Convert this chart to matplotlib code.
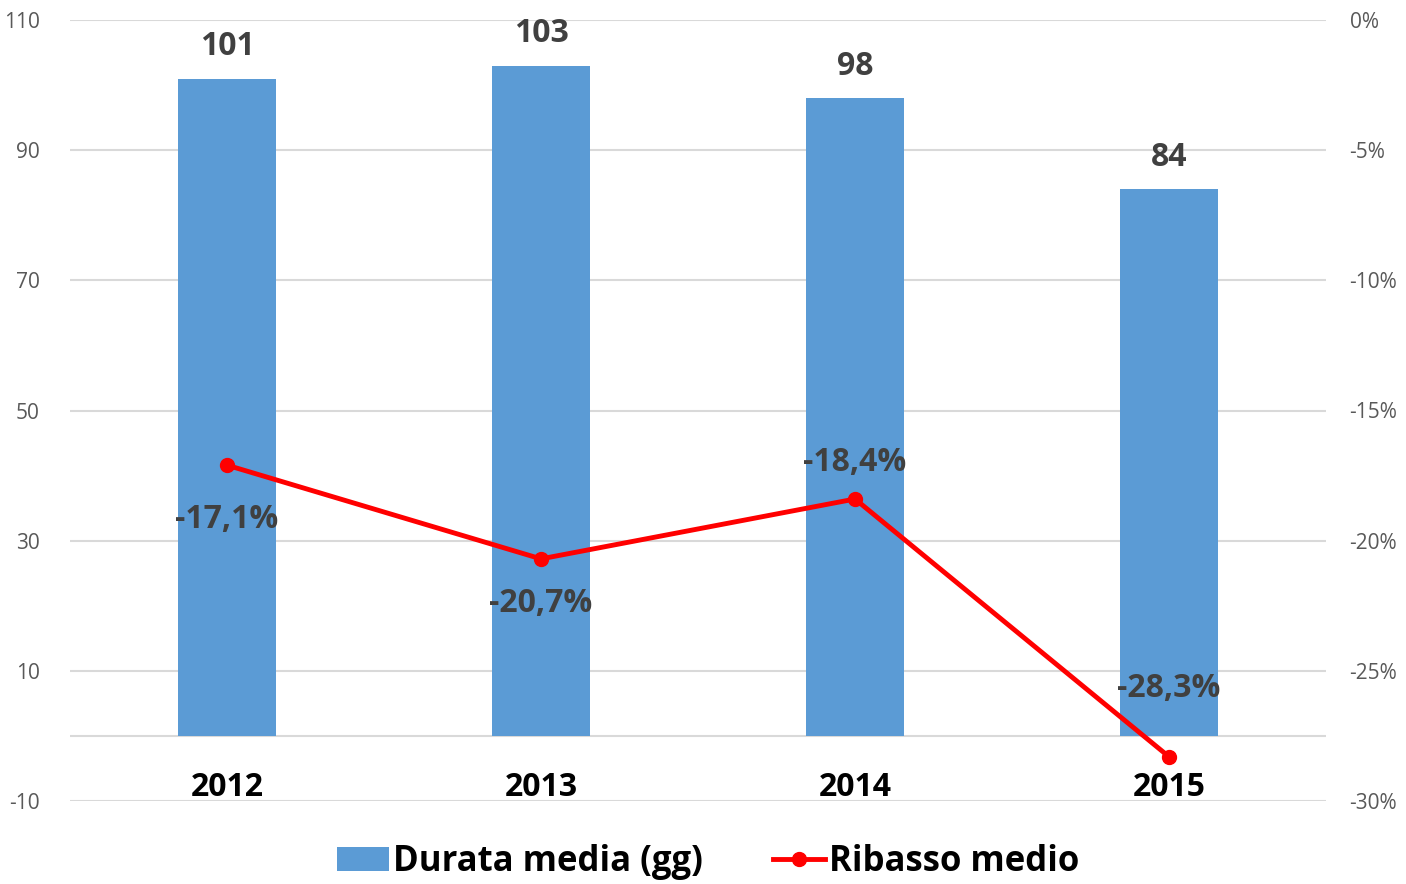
import matplotlib.pyplot as plt
from matplotlib.ticker import FuncFormatter

years = ["2012", "2013", "2014", "2015"]
durata = [101, 103, 98, 84]
ribasso = [-17.1, -20.7, -18.4, -28.3]

# vertical offset (px) of each ribasso label from its marker
rib_offsets = [54, 45, -37, -68]

plt.rcParams["font.family"] = ["Open Sans", "DejaVu Sans"]
plt.rcParams["axes.unicode_minus"] = False

fig = plt.figure(figsize=(14.06, 8.84), dpi=100)
ax = fig.add_axes([70 / 1406, 1 - 801 / 884, (1326 - 70) / 1406, (801 - 20) / 884])

x = list(range(len(years)))
ax.bar(x, durata, width=0.31, color="#5B9BD5", zorder=2, label="Durata media (gg)")
ax.set_xlim(-0.5, 3.5)
ax.set_ylim(-10, 110)
ax.set_yticks(range(-10, 111, 20))
ax.grid(axis="y", color="#d9d9d9", lw=1.5, zorder=0)
ax.axhline(0, color="#d9d9d9", lw=1.5, zorder=1)
ax.set_xticks([])
ax.tick_params(axis="y", length=0, labelsize=15, labelcolor="#595959", pad=22)
for s in ax.spines.values():
    s.set_visible(False)

for xi, v in zip(x, durata):
    ax.annotate(str(v), (xi, v), xytext=(0, 32), textcoords="offset pixels",
                ha="center", va="center", fontsize=23, fontweight="bold", color="#404040")

for xi, yr in zip(x, years):
    ax.text(xi, -8.0, yr, ha="center", va="center", fontsize=23, fontweight="bold", color="black")

ax2 = ax.twinx()
ax2.set_ylim(-30, 0)
ax2.set_yticks(range(-30, 1, 5))
ax2.yaxis.set_major_formatter(FuncFormatter(lambda v, p: f"{int(v)}%"))
ax2.tick_params(axis="y", length=0, labelsize=15, labelcolor="#595959", pad=17)
for s in ax2.spines.values():
    s.set_visible(False)
ax2.plot(x, ribasso, "-o", color="#ff0000", lw=3.5, ms=10, zorder=3, label="Ribasso medio")

for xi, v, off in zip(x, ribasso, rib_offsets):
    ax2.annotate(f"{v:.1f}%".replace(".", ","), (xi, v), xytext=(0, -off), textcoords="offset pixels",
                 ha="center", va="center", fontsize=23, fontweight="bold", color="#404040")

h1, l1 = ax.get_legend_handles_labels()
h2, l2 = ax2.get_legend_handles_labels()
fig.legend(h1 + h2, l1 + l2, loc="center", bbox_to_anchor=(708 / 1406, 1 - 862 / 884), ncol=2,
           frameon=False, prop={"weight": "bold", "size": 25},
           handlelength=1.5, handletextpad=0.12, columnspacing=2.0)

fig.savefig("out.png", dpi=100)
